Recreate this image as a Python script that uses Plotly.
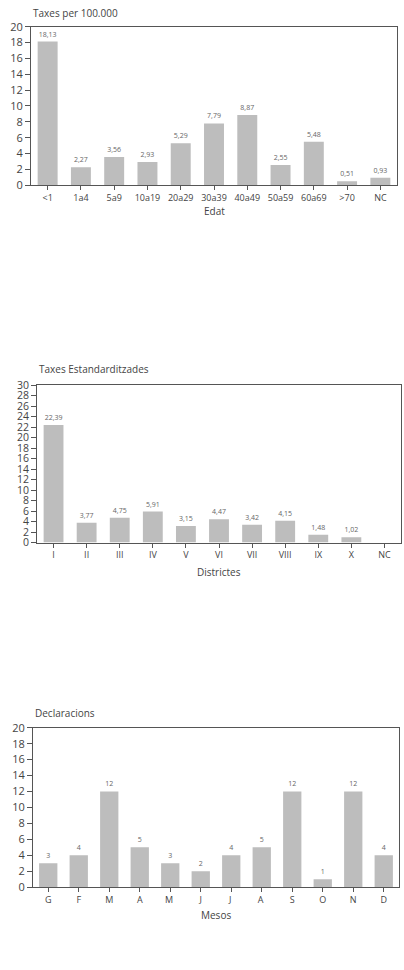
import plotly.graph_objects as go

edat_cats = ["<1", "1a4", "5a9", "10a19", "20a29", "30a39", "40a49", "50a59", "60a69", ">70", "NC"]
edat_vals = [18.13, 2.27, 3.56, 2.93, 5.29, 7.79, 8.87, 2.55, 5.48, 0.51, 0.93]

dist_cats = ["I", "II", "III", "IV", "V", "VI", "VII", "VIII", "IX", "X", "NC"]
dist_vals = [22.39, 3.77, 4.75, 5.91, 3.15, 4.47, 3.42, 4.15, 1.48, 1.02, None]

mes_cats = ["G", "F", "M", "A", "M ", "J", "J ", "A ", "S", "O", "N", "D"]
mes_vals = [3, 4, 12, 5, 3, 2, 4, 5, 12, 1, 12, 4]

W, H = 404, 970
FONT = "Open Sans, Noto Sans, sans-serif"
BAR = "#bdbdbd"
AX = "#555555"
TXT = "#444444"


def fmt(v, dec=2):
    if v is None:
        return ""
    if dec == 0:
        return str(int(v))
    return f"{v:.{dec}f}".replace(".", ",")


def px_x(p):
    return p / W


def px_y(p):
    return 1 - p / H


fig = go.Figure()

panels = [
    # cats, vals, dec, xdom(px), ydom(px top,bottom), ymax, title, xtitle, title_y, xtitle_y, ytick size
    (edat_cats, edat_vals, 2, (31, 397), (19, 180), 20, "Taxes per 100.000", "Edat", 5, 206, 11),
    (dist_cats, dist_vals, 2, (37, 401), (383, 543), 30, "Taxes Estandarditzades", "Districtes", 367, 573, 10.5),
    (mes_cats, mes_vals, 0, (33, 399), (731, 893), 20, "Declaracions", "Mesos", 716, 921, 11),
]

for i, (cats, vals, dec, xd, yd, ymax, title, xtitle, ty, xty, ysz) in enumerate(panels):
    n = "" if i == 0 else str(i + 1)
    fig.add_trace(go.Bar(
        x=cats, y=vals, xaxis="x" + n, yaxis="y" + n,
        marker=dict(color=BAR, line=dict(width=0)),
        width=0.6,
        text=[fmt(v, dec) for v in vals], textposition="outside",
        textfont=dict(size=7, color="#666666", family=FONT),
        cliponaxis=False, showlegend=False, hoverinfo="skip",
    ))
    fig.update_layout(**{
        "xaxis" + n: dict(
            domain=[px_x(xd[0]), px_x(xd[1])], anchor="y" + n,
            type="category", categoryorder="array", categoryarray=cats,
            range=[-0.5, len(cats) - 0.5],
            showline=True, mirror=True, linecolor=AX, linewidth=1,
            ticks="outside", ticklen=4, tickcolor=AX,
            tickfont=dict(size=9, color=TXT, family=FONT),
            showgrid=False, zeroline=False, fixedrange=True,
        ),
        "yaxis" + n: dict(
            domain=[px_y(yd[1]), px_y(yd[0])], anchor="x" + n,
            range=[0, ymax], dtick=2, tick0=0,
            showline=True, mirror=True, linecolor=AX, linewidth=1,
            ticks="outside", ticklen=5, tickcolor=AX,
            tickfont=dict(size=ysz, color=TXT, family=FONT),
            showgrid=False, zeroline=False, fixedrange=True,
        ),
    })
    fig.add_annotation(text=title, x=px_x(xd[0]), y=px_y(ty), xref="paper", yref="paper",
                       xanchor="left", yanchor="middle", showarrow=False,
                       font=dict(size=10, color=TXT, family=FONT))
    fig.add_annotation(text=xtitle, x=px_x((xd[0] + xd[1]) / 2), y=px_y(xty), xref="paper", yref="paper",
                       xanchor="center", yanchor="middle", showarrow=False,
                       font=dict(size=10, color=TXT, family=FONT))

fig.update_layout(
    width=W, height=H, margin=dict(l=0, r=0, t=0, b=0),
    paper_bgcolor="white", plot_bgcolor="white",
    bargap=0.4,
)

fig.write_html(
    "out.html",
    post_script="document.documentElement.style.margin='0';document.body.style.margin='0';document.body.style.padding='0';document.body.style.overflow='hidden';",
)
